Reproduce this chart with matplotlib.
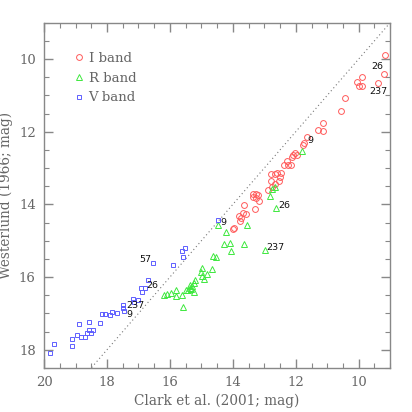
import matplotlib
matplotlib.use("Agg")
import matplotlib.pyplot as plt
from matplotlib.ticker import MultipleLocator

# I band (Clark 2001, Westerlund 1966)
i_clark = [9.15, 9.19, 9.89, 10.04, 10.00, 9.89, 9.40, 10.42, 10.55, 11.14, 11.29, 11.14,
           11.63, 11.74, 11.76, 12.02, 12.08, 11.97, 12.12, 12.27, 12.38, 12.25, 12.14,
           12.80, 12.67, 12.59, 12.46, 12.50, 12.53, 12.80, 12.65, 12.76, 12.89,
           13.37, 13.27, 13.21, 13.36, 13.25, 13.16, 13.63, 13.29, 13.69, 13.57, 13.80,
           13.74, 13.76, 13.99, 13.97]
i_west = [9.88, 10.41, 10.49, 10.63, 10.74, 10.74, 10.65, 11.06, 11.42, 11.77, 11.96, 11.98,
          12.14, 12.32, 12.36, 12.60, 12.65, 12.65, 12.71, 12.80, 12.91, 12.93, 12.93,
          13.17, 13.17, 13.15, 13.15, 13.24, 13.35, 13.37, 13.44, 13.52, 13.61,
          13.72, 13.72, 13.74, 13.81, 13.83, 13.92, 14.02, 14.14, 14.25, 14.27, 14.31,
          14.38, 14.47, 14.67, 14.64]

# R band
r_clark = [11.79, 12.65, 12.76, 12.82, 12.63, 13.55, 14.46, 14.23, 14.27, 14.10, 13.63,
           14.06, 12.99, 14.63, 14.52, 14.97, 14.67, 14.97, 14.82, 14.91, 15.21, 15.25,
           15.35, 15.29, 15.37, 15.42, 15.33, 15.48, 15.22, 15.80, 15.61, 15.80, 15.97,
           16.10, 16.20, 15.57, 15.01]
r_west = [12.53, 13.53, 13.58, 13.77, 14.10, 14.58, 14.56, 14.75, 15.08, 15.06, 15.08,
          15.28, 15.26, 15.43, 15.46, 15.74, 15.78, 15.96, 15.92, 16.05, 16.09, 16.16,
          16.21, 16.25, 16.29, 16.35, 16.33, 16.36, 16.40, 16.36, 16.49, 16.51, 16.45,
          16.47, 16.49, 16.82, 15.87]

# V band
v_clark = [14.46, 15.52, 15.63, 15.59, 15.91, 16.55, 16.69, 16.93, 16.80, 16.88, 17.16,
           17.01, 17.13, 17.50, 17.48, 17.47, 17.67, 17.85, 17.89, 18.05, 18.16, 18.22,
           18.56, 18.58, 18.46, 18.50, 18.63, 18.71, 18.84, 18.95, 18.88, 19.12, 19.12,
           19.69, 19.81]
v_west = [14.42, 15.21, 15.28, 15.45, 15.66, 15.61, 16.09, 16.29, 16.31, 16.42, 16.60,
          16.64, 16.70, 16.77, 16.85, 16.93, 16.99, 16.96, 17.05, 17.01, 17.02, 17.27,
          17.23, 17.45, 17.45, 17.53, 17.53, 17.65, 17.65, 17.59, 17.28, 17.70, 17.91,
          17.84, 18.09]

# star labels
lab_text = ["26", "237", "9", "26", "237", "9", "57", "26", "237", "9"]
lab_x = [9.42, 9.38, 11.55, 12.38, 12.65, 14.29, 16.78, 16.55, 17.11, 17.29]
lab_y = [10.21, 10.90, 12.25, 14.03, 15.19, 14.49, 15.52, 16.22, 16.78, 17.04]

legend_labels = ["I band", "R band", "V band"]

fig = plt.figure(figsize=(4.12, 4.12), dpi=100)
ax = fig.add_axes([0.107, 0.107, 0.840, 0.838])

serif = "DejaVu Serif"
grey = "#666666"

ax.plot([9, 20], [9, 20], linestyle=(0, (1, 2.5)), color="#777777", lw=0.8, zorder=1)

ax.plot(i_clark, i_west, 'o', ms=4.2, mfc='none', mec='#ff5a5a', mew=0.7, ls='none', label=legend_labels[0])
ax.plot(r_clark, r_west, '^', ms=3.8, mfc='none', mec='#3ee83e', mew=0.7, ls='none', label=legend_labels[1])
ax.plot(v_clark, v_west, 's', ms=3.5, mfc='none', mec='#5f5fff', mew=0.7, ls='none', label=legend_labels[2])

for t, x, y in zip(lab_text, lab_x, lab_y):
    ax.text(x, y, t, fontsize=6.8, color="#111111", ha="center", va="center",
            family="DejaVu Sans")

ax.set_xlim(20, 9)
ax.set_ylim(18.5, 9)

ax.xaxis.set_major_locator(MultipleLocator(2))
ax.xaxis.set_minor_locator(MultipleLocator(0.5))
ax.yaxis.set_major_locator(MultipleLocator(2))
ax.yaxis.set_minor_locator(MultipleLocator(0.5))

ax.tick_params(which='both', direction='in', top=True, right=True, color='#888888',
               labelcolor=grey, labelsize=9.5)
ax.tick_params(which='major', length=6.5, width=1.0, pad=6)
ax.tick_params(which='minor', length=3.5, width=0.8)
for lbl in ax.get_xticklabels() + ax.get_yticklabels():
    lbl.set_family(serif)
for s in ax.spines.values():
    s.set_color('#888888')
    s.set_linewidth(1.0)

ax.set_xlabel("Clark et al. (2001; mag)", family=serif, fontsize=9.8, color=grey, labelpad=3)
ax.set_ylabel("Westerlund (1966; mag)", family=serif, fontsize=9.8, color=grey, labelpad=4)

leg = ax.legend(loc='upper left', bbox_to_anchor=(0.075, 0.93), frameon=False,
                handlelength=0.6, handletextpad=0.4, labelspacing=0.5, borderaxespad=0,
                prop={'family': serif, 'size': 9.5})
for t in leg.get_texts():
    t.set_color(grey)

fig.savefig("out.png", dpi=100)
